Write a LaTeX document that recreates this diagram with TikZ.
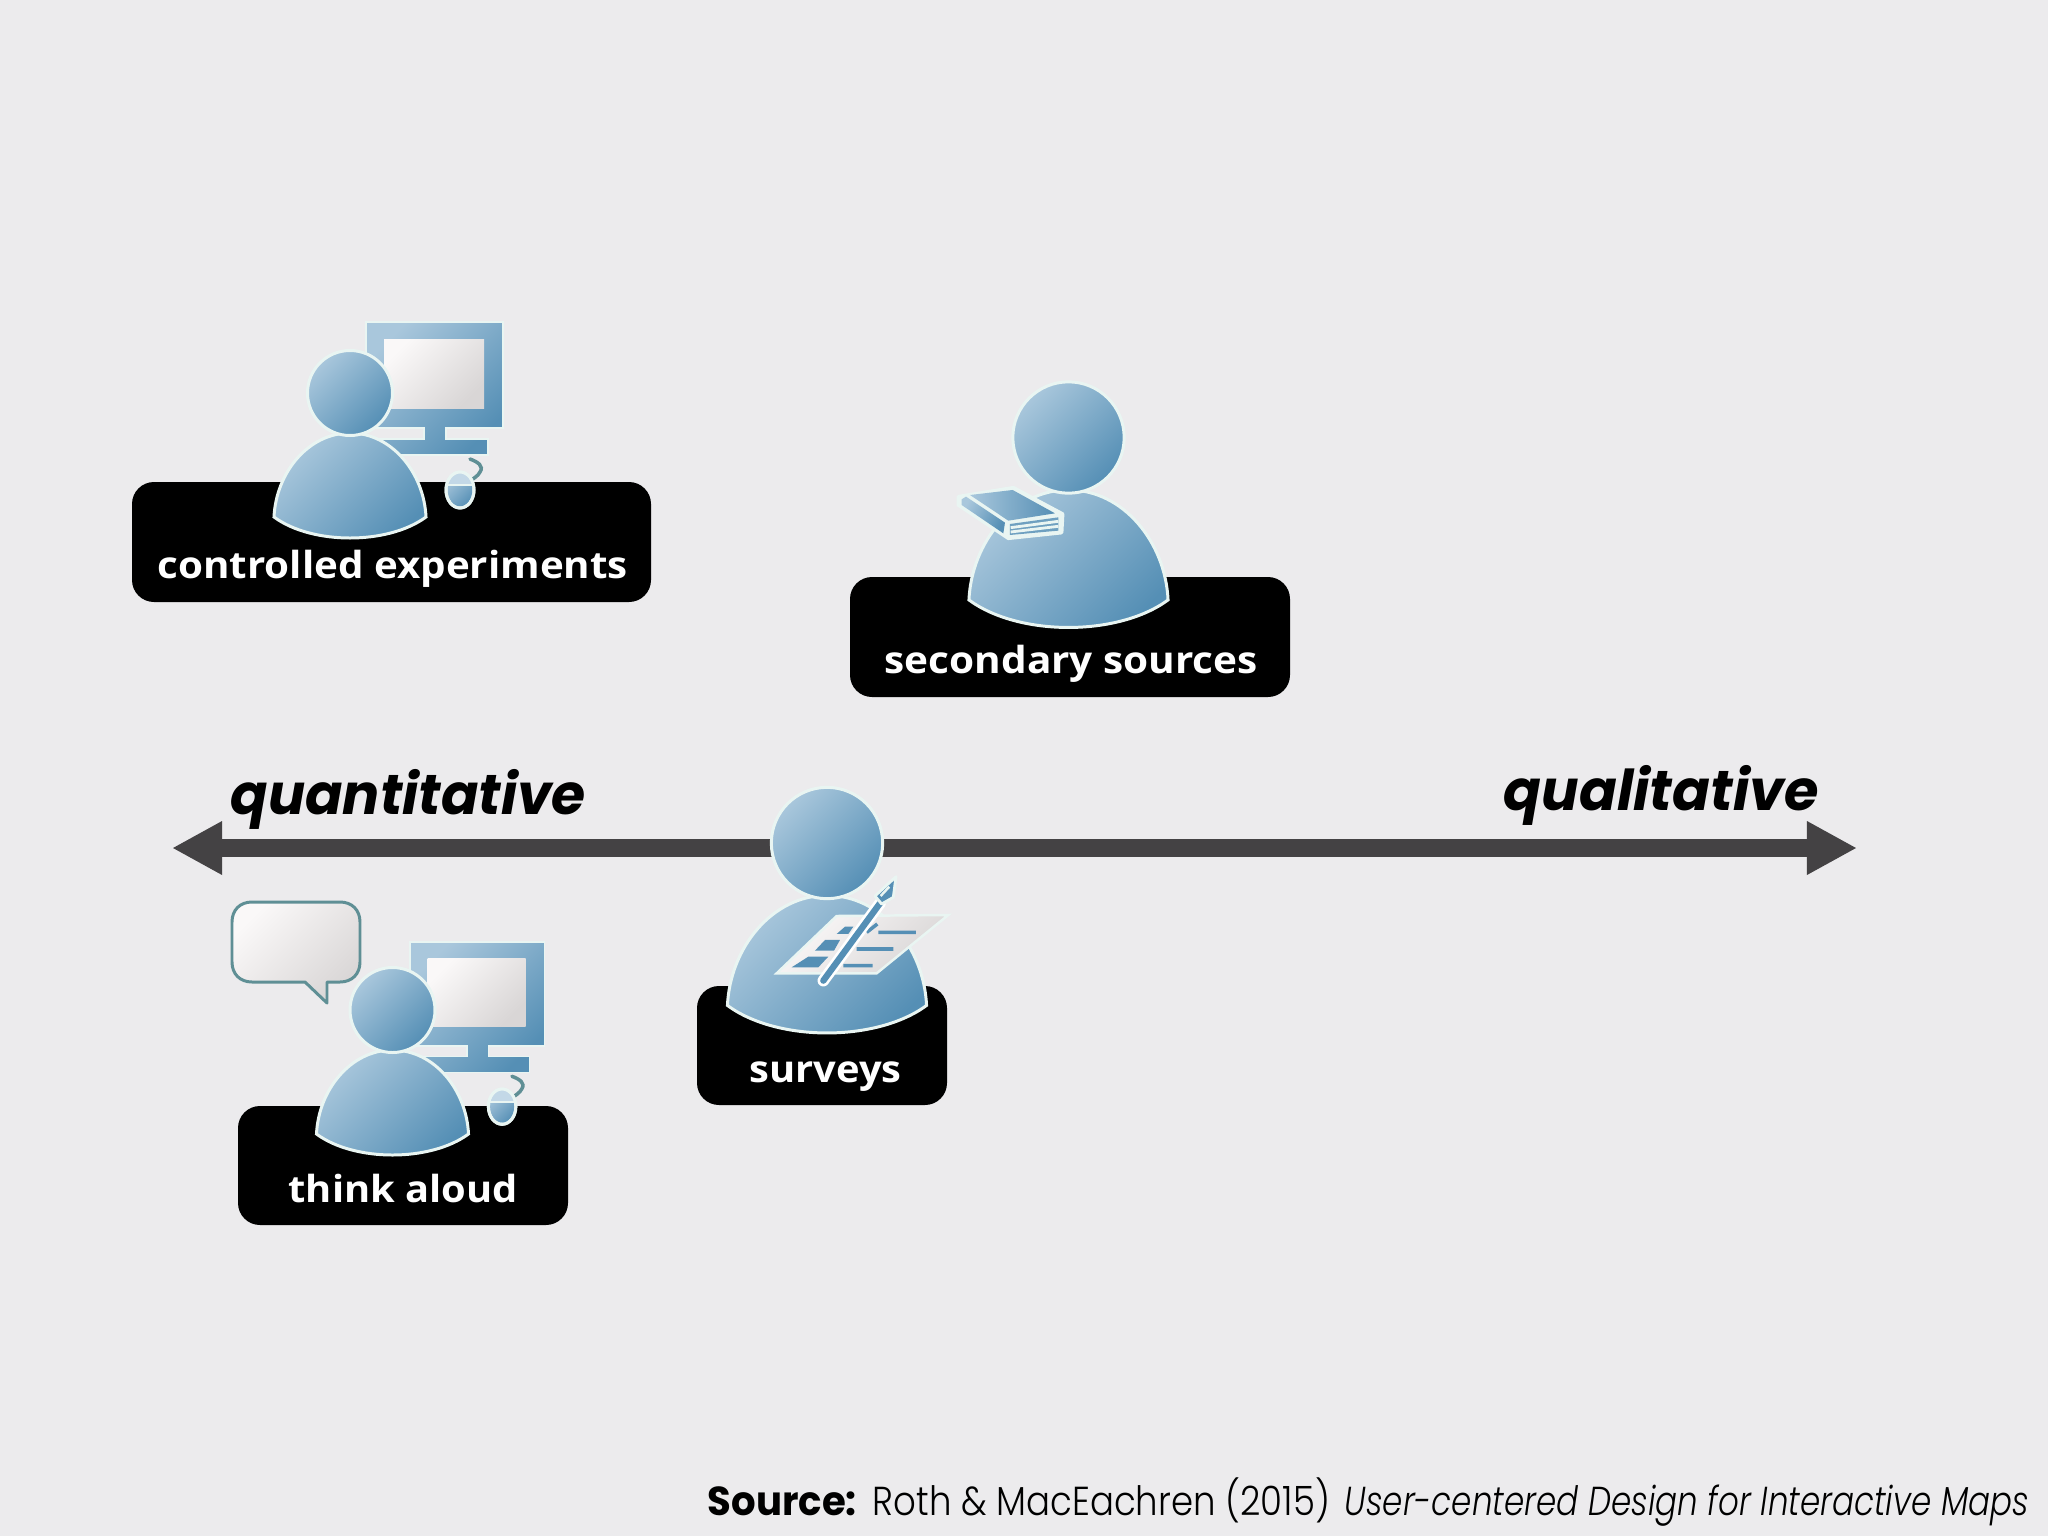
\documentclass[tikz,border=0pt]{standalone}
\usepackage{fontspec}
\usepackage{graphicx}
\usetikzlibrary{arrows.meta}
\newfontfamily\labelfont{Open Sans}
\newfontfamily\geofont{Poppins}
\newfontfamily\thinfont[ItalicFont={Poppins Light Italic}]{Poppins Light}
\definecolor{bgc}{HTML}{ECEBED}
\definecolor{blueL}{HTML}{A9C7DC}
\definecolor{blueD}{HTML}{558FB5}
\definecolor{rimc}{HTML}{E9F5F2}
\definecolor{shaftc}{HTML}{444244}
\definecolor{cablec}{HTML}{5F8F95}
\definecolor{greyL}{HTML}{FAF8F8}
\definecolor{greyD}{HTML}{D9D6D6}
\tikzset{
  x=0.01cm,y=-0.01cm,
  plate/.style={fill=black,rounded corners=0.22cm},
  blueshade/.style={top color=blueL,bottom color=blueD,shading angle=45,draw=rimc,line width=0.85pt},
  screenshade/.style={top color=greyL,bottom color=greyD,shading angle=45},
  plabel/.style={anchor=base west,inner sep=0pt,text=white,font=\labelfont\bfseries\fontsize{10.6}{12}\selectfont},
  axlabel/.style={anchor=base west,inner sep=0pt,text=black,font=\geofont\bfseries\itshape\fontsize{16}{18}\selectfont},
  srclabel/.style={anchor=base west,inner sep=0pt,text=black,font=\fontsize{11.5}{13}\selectfont},
  axis line/.style={line width=0.18cm,draw=shaftc,{Triangle[length=0.5cm,width=0.5cm]}-{Triangle[length=0.5cm,width=0.5cm]}},
}
\newcommand{\fitw}[2]{\resizebox{#1}{\height}{#2}}
% person: origin at head centre
\newcommand{\person}[3]{%
  \begin{scope}[shift={(#1,#2)},scale=#3]
    \path[blueshade] (-76,124) .. controls (-74,80) and (-42,40) .. (0,40)
      .. controls (42,40) and (74,80) .. (76,124)
      .. controls (38,152) and (-38,152) .. (-76,124) -- cycle;
    \path[blueshade] (0,0) circle[radius=42.5];
  \end{scope}}
% monitor and mouse: origin at monitor's top-left corner
\newcommand{\desktop}[3]{%
  \begin{scope}[shift={(#1,#2)},scale=#3]
    \path[blueshade,line width=0.4pt] (0,0) -- (137,0) -- (137,106) -- (80,106) -- (80,117) -- (122,117) -- (122,133) -- (4,133) -- (4,117) -- (58,117) -- (58,106) -- (0,106) -- cycle;
    \path[screenshade] (18,17) rectangle (118,86);
    \draw[cablec,line width=1pt,line cap=round] (104,137) .. controls (112,140) and (118,144) .. (114,150) .. controls (112,154) and (108,156) .. (103,160);
    \path[blueshade] (94,168) ellipse[x radius=14,y radius=18];
    \fill[blueL!70!white] (81,163) .. controls (83,154) and (90,151) .. (94,151) .. controls (98,151) and (105,154) .. (107,163) -- cycle;
    \draw[rimc,line width=0.7pt] (81,163) -- (107,163);
    \draw[rimc,line width=0.85pt] (94,168) ellipse[x radius=14,y radius=18];
  \end{scope}}
\begin{document}
\begin{tikzpicture}
\useasboundingbox (0,0) rectangle (2048,1536);
\fill[bgc] (0,0) rectangle (2048,1536);

% axis
\coordinate (axisL) at (172,848);
\coordinate (axisR) at (1857,848);
\draw[axis line] (axisL) -- (axisR);
\node[axlabel] (quant) at (230,814) {\fitw{3.55cm}{quantitative}};
\node[axlabel] (qual) at (1503,810) {\fitw{3.15cm}{qualitative}};

% controlled experiments
\path[plate] (132,482) rectangle (651,602);
\desktop{366}{322}{1}
\person{350}{393}{1}
\node[plabel] (ce) at (157,578) {\fitw{4.70cm}{controlled experiments}};

% secondary sources
\path[plate] (850,577) rectangle (1290,697);
\person{1068.5}{437.5}{1.31}
\begin{scope}[shift={(840,360)},scale=0.3333]
  \path[fill=rimc,draw=rimc,line width=1pt,line join=round] (355,410) -- (520,383) -- (668,462) -- (665,518) -- (505,535) -- (355,435) -- cycle;
  \path[top color=blueL,bottom color=blueD,shading angle=90] (390,405) -- (518,390) -- (645,460) -- (505,482) -- cycle;
  \path[top color=blueL,bottom color=blueD,shading angle=60] (365,418) -- (378,410) -- (495,488) -- (490,520) -- (365,435) -- cycle;
  \fill[blueD!85!white] (510,492) -- (655,472) -- (655,512) -- (510,525) -- cycle;
  \draw[rimc,line width=0.8pt] (512,503) -- (655,484) (512,516) -- (655,499);
\end{scope}
\node[plabel] (ss) at (884,673) {\fitw{3.73cm}{secondary sources}};

% surveys
\path[plate] (697,986) rectangle (947,1105);
\person{827}{843}{1.31}
\begin{scope}[shift={(680,770)},scale=0.3333]
  \path[screenshade,draw=rimc,line width=0.7pt] (290,610) -- (470,438) -- (805,435) -- (590,610) -- cycle;
  \fill[blueD] (335,592) -- (385,560) -- (445,560) -- (415,592) -- cycle;
  \fill[blueD] (405,542) -- (435,510) -- (480,510) -- (462,542) -- cycle;
  \fill[blueD] (470,492) -- (495,470) -- (520,470) -- (505,492) -- cycle;
  \draw[blueD,line width=1pt] (595,487) -- (708,487) (530,537) -- (640,537) (490,587) -- (578,587) (560,487) -- (592,462);
  \draw[white,line width=3.3pt,line cap=round] (430,632) -- (600,400);
  \draw[blueD,line width=1.8pt,line cap=round] (430,632) -- (600,400);
  \path[fill=blueD,draw=rimc,line width=0.8pt,line join=round] (585,378) -- (648,320) -- (640,382) -- (605,402) -- cycle;
  \draw[rimc,line width=0.7pt] (602,378) -- (628,350);
\end{scope}
\node[plabel] (su) at (749,1082) {\fitw{1.52cm}{surveys}};

% think aloud
\path[plate] (238,1106) rectangle (568,1225);
\path[screenshade,draw=cablec,line width=0.85pt,line join=round]
  (252,902) -- (340,902) .. controls (352,902) and (360,910) .. (360,922)
  -- (360,962) .. controls (360,974) and (352,982) .. (340,982)
  -- (327,982) -- (327,1003) -- (305,982) -- (252,982)
  .. controls (240,982) and (232,974) .. (232,962)
  -- (232,922) .. controls (232,910) and (240,902) .. (252,902) -- cycle;
\desktop{410}{942}{0.98}
\person{392.5}{1010}{1}
\node[plabel] (ta) at (288,1202) {\fitw{2.29cm}{think aloud}};

% source line
\node[srclabel] (srcA) at (707,1515) {\fitw{1.49cm}{\geofont\bfseries Source:}};
\node[srclabel] (srcB) at (872,1515) {\fitw{4.57cm}{\thinfont Roth \& MacEachren (2015)}};
\node[srclabel] (srcC) at (1344,1515) {\fitw{6.84cm}{\thinfont\itshape User-centered Design for Interactive Maps}};
\end{tikzpicture}
\end{document}
